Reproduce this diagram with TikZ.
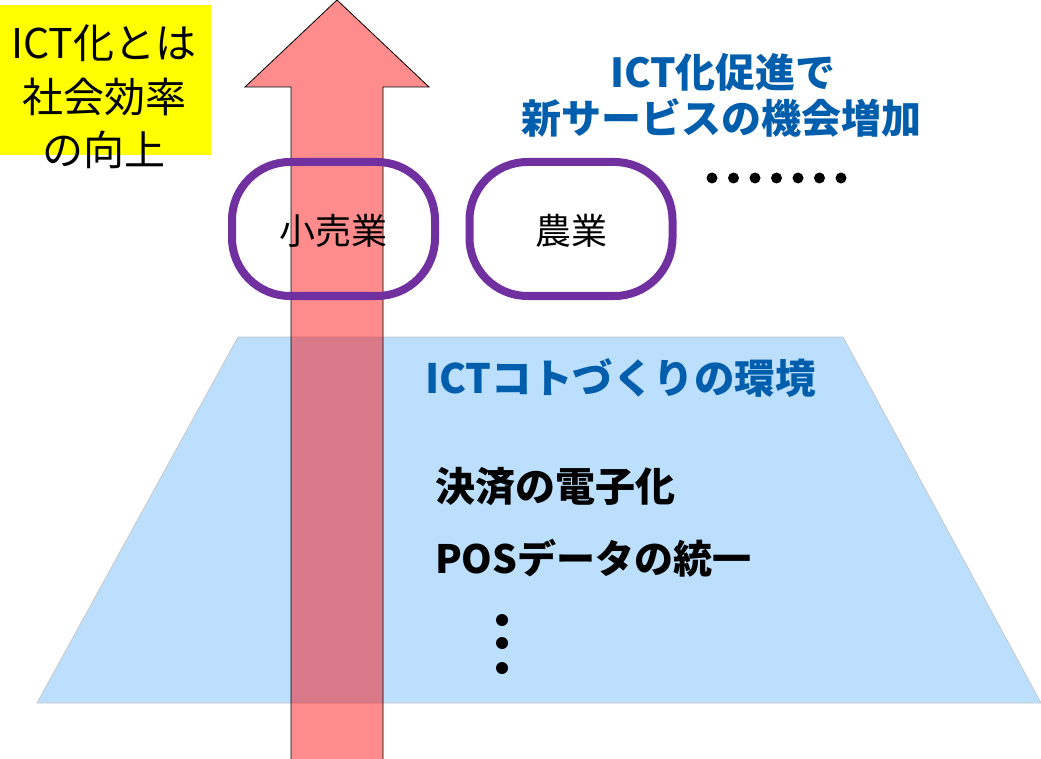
\documentclass[tikz,border=0pt]{standalone}
\usepackage{fontspec}
\setmainfont{Noto Sans CJK JP}
\definecolor{boxyellow}{RGB}{255,255,0}
\definecolor{pillpurple}{RGB}{112,48,160}
\definecolor{titleblue}{RGB}{0,94,172}
\definecolor{trapfill}{RGB}{187,223,253}
\definecolor{trapline}{RGB}{200,200,200}
\tikzset{
  pilltext/.style={inner sep=0pt, font=\fontsize{36}{40}\selectfont},
  pillline/.style={draw=pillpurple, line width=8pt},
  bluetitle/.style={text=titleblue, inner sep=0pt, font=\fontsize{40}{48}\selectfont\bfseries},
  blacktext/.style={text=black, inner sep=0pt, font=\fontsize{40}{48}\selectfont\bfseries},
  bigarrow/.style={fill=red, fill opacity=0.45, draw=black, draw opacity=1, line width=0.8pt, line join=miter},
  dotstyle/.style={circle, fill=black, inner sep=0pt}
}
\begin{document}
\begin{tikzpicture}[x=1pt,y=-1pt]
\useasboundingbox (0,0) rectangle (1041,759);
\fill[white] (0,0) rectangle (1041,759);
% yellow box
\fill[boxyellow] (0,5) rectangle (211,155);
\node[align=center, inner sep=0pt, font=\fontsize{41}{53.5}\selectfont] (def) at (104,97) {ICT化とは\\社会効率\\の向上};
% trapezoid
\draw[draw=trapline, line width=0.8pt, fill=trapfill] (238,337) -- (843,337) -- (1041,703) -- (37,703) -- cycle;
% arrow
\draw[bigarrow] (337,0) -- (429,87) -- (383,87) -- (383,770) -- (291,770) -- (291,87) -- (245,87) -- cycle;
% pills
\foreach \cx in {333.5,571} {
  \draw[pillline] (\cx-101.5,220) arc[start angle=180,end angle=270,radius=58]
    -- (\cx+43.5,162) arc[start angle=270,end angle=360,radius=58]
    -- (\cx+101.5,238) arc[start angle=0,end angle=90,radius=58]
    -- (\cx-43.5,296) arc[start angle=90,end angle=180,radius=58] -- cycle;
}
\node[pilltext] (retail) at (333.5,231) {小売業};
\node[pilltext] (agri) at (571,231) {農業};
% titles
\node[bluetitle] (title1) at (723,72) {ICT化促進で};
\node[bluetitle] (title2) at (721,118) {新サービスの機会増加};
\node[bluetitle, anchor=west, font=\fontsize{40.5}{48}\selectfont\bfseries] (env) at (425,378) {ICTコトづくりの環境};
\node[blacktext, anchor=west] (pay) at (435,487) {決済の電子化};
\node[blacktext, anchor=west, font=\fontsize{39}{48}\selectfont\bfseries] (pos) at (435,558) {POSデータの統一};
% horizontal dots
\foreach \i in {0,...,6} {
  \node[dotstyle, minimum size=11pt] (hd\i) at (712+21.5*\i,178) {};
}
% vertical dots
\node[dotstyle, minimum size=12pt] (vd1) at (502,620) {};
\node[dotstyle, minimum size=12pt] (vd2) at (502,643) {};
\node[dotstyle, minimum size=12pt] (vd3) at (502,668) {};
\end{tikzpicture}
\end{document}
